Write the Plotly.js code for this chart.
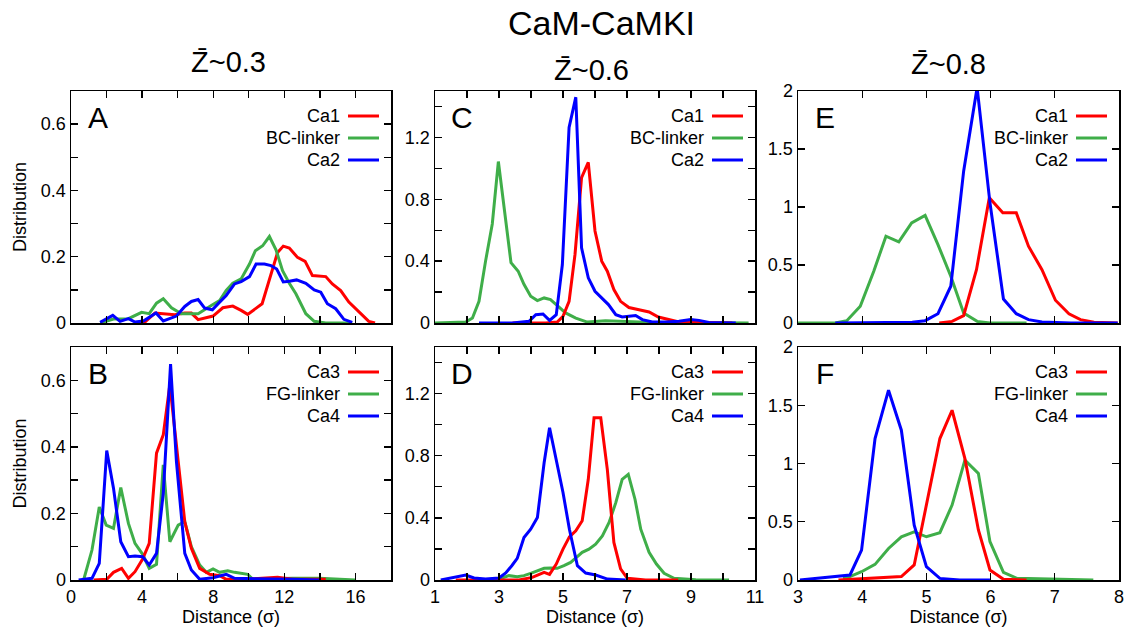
<!DOCTYPE html>
<html>
<head>
<meta charset="utf-8">
<script src="https://cdn.plot.ly/plotly-3.0.1.min.js"></script>
<style>html,body{margin:0;padding:0;background:#fff;}#chart{width:1133px;height:629px;}</style>
</head>
<body>
<div id="chart"></div>
<script>
// ---------- Data ----------
// Panel A (Z~0.3, top)
const A_ca1_x = [3.7, 4.16, 4.72, 5.19, 5.84, 6.4, 6.77, 7.15, 7.6, 7.99, 8.54, 9.1, 9.57, 9.94, 10.75, 11.16, 11.62, 11.94, 12.28, 12.74, 13.17, 13.58, 13.95, 14.33, 14.7, 15.17, 15.63, 16.29, 16.75, 17.1];
const A_ca1_y = [0, 0.003, 0.03, 0.028, 0.025, 0.03, 0.03, 0.01, 0.015, 0.021, 0.046, 0.051, 0.038, 0.026, 0.058, 0.128, 0.213, 0.232, 0.226, 0.198, 0.186, 0.143, 0.141, 0.14, 0.118, 0.098, 0.063, 0.03, 0.005, 0];
const A_bc_x = [1.64, 2.39, 3.23, 3.97, 4.4, 4.81, 5.19, 5.65, 6.21, 7.15, 7.89, 8.36, 8.73, 9.1, 9.57, 10.04, 10.37, 10.78, 11.16, 11.53, 11.9, 12.28, 12.65, 13.21, 13.68, 14.33, 15.82];
const A_bc_y = [0, 0.012, 0.013, 0.032, 0.028, 0.06, 0.073, 0.046, 0.028, 0.028, 0.053, 0.068, 0.098, 0.12, 0.133, 0.178, 0.218, 0.233, 0.261, 0.221, 0.158, 0.12, 0.088, 0.028, 0.005, 0, 0];
const A_ca2_x = [1.64, 2.35, 2.76, 3.23, 3.6, 4.07, 4.78, 5.19, 5.93, 6.4, 6.77, 7.15, 7.52, 7.95, 8.36, 8.73, 9.2, 9.57, 10.04, 10.41, 10.88, 11.25, 11.57, 11.94, 12.28, 12.69, 13.21, 13.68, 14.05, 14.42, 14.89, 15.35, 15.82];
const A_ca2_y = [0.002, 0.023, 0.005, 0.013, 0.003, 0.006, 0.03, 0.006, 0.021, 0.05, 0.065, 0.071, 0.045, 0.04, 0.063, 0.083, 0.118, 0.125, 0.14, 0.178, 0.178, 0.173, 0.163, 0.124, 0.126, 0.13, 0.12, 0.1, 0.093, 0.058, 0.043, 0.011, 0.002];

// Panel B (Z~0.3, bottom)
const B_ca3_x = [1.27, 2.01, 2.39, 2.85, 3.23, 3.6, 4.03, 4.4, 4.81, 5.19, 5.56, 5.93, 6.4, 6.77, 7.24, 7.8, 8.36, 8.73, 9.85, 11.62, 12.46, 14.33];
const B_ca3_y = [0, 0.002, 0.023, 0.035, 0.005, 0.025, 0.063, 0.11, 0.381, 0.436, 0.587, 0.406, 0.175, 0.095, 0.035, 0.017, 0.013, 0.002, 0.002, 0.008, 0.002, 0.002];
const B_fg_x = [0.71, 1.18, 1.59, 1.98, 2.39, 2.8, 3.23, 3.6, 4.03, 4.4, 4.81, 5.19, 5.56, 6.03, 6.4, 6.77, 7.24, 7.61, 7.99, 8.36, 8.82, 9.2, 9.94, 10.23, 12.46, 13.96, 16.0];
const B_fg_y = [0, 0.09, 0.219, 0.165, 0.155, 0.278, 0.17, 0.11, 0.077, 0.035, 0.047, 0.346, 0.115, 0.165, 0.175, 0.1, 0.045, 0.023, 0.033, 0.023, 0.028, 0.023, 0.017, 0.002, 0.005, 0.005, 0];
const B_ca4_x = [0.43, 1.18, 1.59, 2.01, 2.39, 2.8, 3.23, 3.6, 4.03, 4.4, 4.81, 5.19, 5.6, 5.93, 6.4, 6.77, 7.24, 7.99, 8.73, 9.2, 12.46, 13.96];
const B_ca4_y = [0, 0.005, 0.05, 0.389, 0.276, 0.115, 0.07, 0.072, 0.07, 0.045, 0.08, 0.26, 0.649, 0.356, 0.08, 0.03, 0.002, 0.007, 0.017, 0.005, 0.002, 0];

// Panel C (Z~0.6, top)
const C_bc_x = [1.0, 1.96, 2.17, 2.375, 2.58, 2.79, 2.98, 3.19, 3.375, 3.6, 3.78, 3.99, 4.2, 4.41, 4.61, 4.85, 5.08, 5.4, 5.76, 6.33, 6.96, 7.79, 8.83, 10.8];
const C_bc_y = [0, 0.006, 0.032, 0.14, 0.4, 0.64, 1.044, 0.70, 0.39, 0.335, 0.25, 0.173, 0.145, 0.162, 0.151, 0.108, 0.065, 0.032, 0.006, 0.015, 0.011, 0.004, 0.004, 0];
const C_ca1_x = [3.42, 4.46, 4.82, 5.0, 5.19, 5.375, 5.58, 5.79, 6.0, 6.21, 6.385, 6.59, 6.8, 7.06, 7.375, 7.69, 7.98, 8.31, 8.625, 9.35, 10.29];
const C_ca1_y = [0, 0, 0.006, 0.043, 0.14, 0.443, 0.94, 1.038, 0.595, 0.4, 0.335, 0.216, 0.14, 0.1, 0.086, 0.071, 0.039, 0.022, 0.006, 0.004, 0];
const C_ca2_x = [2.375, 3.42, 3.94, 4.15, 4.375, 4.58, 4.79, 4.98, 5.19, 5.4, 5.58, 5.79, 6.0, 6.21, 6.42, 6.65, 6.85, 7.06, 7.27, 7.48, 7.79, 8.21, 8.625, 8.99, 9.25, 9.56, 10.4];
const C_ca2_y = [0, 0, 0.011, 0.054, 0.058, 0.017, 0.054, 0.378, 1.265, 1.46, 0.486, 0.292, 0.205, 0.162, 0.119, 0.054, 0.039, 0.043, 0.048, 0.022, 0.006, 0.006, 0.011, 0.022, 0.017, 0.004, 0];

// Panel D (Z~0.6, bottom)
const D_ca3_x = [1.65, 3.625, 4.04, 4.41, 4.58, 4.79, 5.0, 5.2, 5.4, 5.6, 5.79, 5.97, 6.18, 6.385, 6.59, 6.8, 7.01, 7.58, 8.6];
const D_ca3_y = [0, 0, 0.017, 0.049, 0.036, 0.103, 0.199, 0.278, 0.317, 0.381, 0.648, 1.044, 1.044, 0.712, 0.242, 0.071, 0.011, 0, 0];
const D_fg_x = [3.0, 3.31, 3.57, 3.78, 3.99, 4.2, 4.41, 4.61, 4.82, 5.03, 5.24, 5.42, 5.6, 5.81, 6.02, 6.23, 6.44, 6.65, 6.85, 7.04, 7.25, 7.43, 7.69, 7.92, 8.16, 8.47, 9.15, 10.19];
const D_fg_y = [0.006, 0.028, 0.021, 0.028, 0.043, 0.06, 0.075, 0.077, 0.075, 0.092, 0.113, 0.145, 0.178, 0.199, 0.231, 0.284, 0.37, 0.498, 0.648, 0.68, 0.52, 0.327, 0.178, 0.103, 0.043, 0.011, 0.002, 0];
const D_ca4_x = [1.18, 1.65, 1.96, 2.22, 2.58, 3.0, 3.21, 3.4, 3.57, 3.78, 3.99, 4.2, 4.41, 4.58, 4.79, 5.0, 5.2, 5.45, 5.71, 6.02, 6.39, 6.96];
const D_ca4_y = [0, 0.017, 0.032, 0.013, 0.006, 0.013, 0.045, 0.092, 0.139, 0.274, 0.327, 0.402, 0.755, 0.98, 0.776, 0.563, 0.327, 0.092, 0.045, 0.032, 0.006, 0];

// Panel E (Z~0.8, top)
const E_bc_x = [2.97, 3.58, 3.76, 3.97, 4.18, 4.37, 4.57, 4.77, 4.98, 5.18, 5.38, 5.58, 5.79, 5.99, 6.56];
const E_bc_y = [0, 0, 0.02, 0.144, 0.446, 0.748, 0.7, 0.863, 0.927, 0.676, 0.403, 0.086, 0.014, 0, 0];
const E_ca1_x = [5.2, 5.4, 5.58, 5.78, 5.98, 6.19, 6.4, 6.59, 6.8, 7.01, 7.22, 7.4, 7.61, 7.98];
const E_ca1_y = [0, 0.014, 0.063, 0.46, 1.079, 0.95, 0.95, 0.662, 0.46, 0.196, 0.08, 0.029, 0.006, 0];
const E_ca2_x = [3.58, 4.78, 4.98, 5.18, 5.38, 5.58, 5.79, 5.99, 6.2, 6.4, 6.59, 6.8, 7.25, 7.98];
const E_ca2_y = [0, 0.006, 0.02, 0.08, 0.317, 1.309, 2.03, 1.036, 0.207, 0.08, 0.029, 0.009, 0, 0];

// Panel F (Z~0.8, bottom)
const F_ca3_x = [3.63, 4.61, 4.81, 5.0, 5.21, 5.4, 5.6, 5.81, 5.99, 6.2, 6.56];
const F_ca3_y = [0, 0.029, 0.129, 0.643, 1.214, 1.457, 1.043, 0.429, 0.086, 0.006, 0];
const F_fg_x = [3.7, 3.81, 3.99, 4.2, 4.41, 4.61, 4.81, 5.0, 5.21, 5.4, 5.6, 5.81, 5.99, 6.2, 6.41, 7.6];
const F_fg_y = [0.02, 0.029, 0.071, 0.134, 0.271, 0.371, 0.414, 0.371, 0.406, 0.643, 1.029, 0.914, 0.329, 0.066, 0.014, 0];
const F_ca4_x = [3.03, 3.81, 3.99, 4.2, 4.41, 4.61, 4.81, 5.0, 5.21, 5.52, 5.99];
const F_ca4_y = [0, 0.043, 0.257, 1.214, 1.629, 1.286, 0.471, 0.114, 0.014, 0, 0];

// Names / labels
const topNames = ["Ca1", "BC-linker", "Ca2"];
const bottomNames = ["Ca3", "FG-linker", "Ca4"];
const panelLetters = ["A", "B", "C", "D", "E", "F"];
const columnTitles = ["Z\u0304~0.3", "Z\u0304~0.6", "Z\u0304~0.8"];
const mainTitle = "CaM-CaMKI";
const xTitle = "Distance (\u03c3)";
const yTitle = "Distribution";

// Tick values and labels
const xTicksAB = [0, 2, 4, 6, 8, 10, 12, 14, 16, 18];
const xTextAB = ["0", "", "4", "", "8", "", "12", "", "16", ""];
const xTicksCD = [1, 2, 3, 4, 5, 6, 7, 8, 9, 10, 11];
const xTextCD = ["1", "", "3", "", "5", "", "7", "", "9", "", "11"];
const xTicksEF = [3, 4, 5, 6, 7, 8];
const xTextEF = ["3", "4", "5", "6", "7", "8"];
const yTicksAB = [0, 0.1, 0.2, 0.3, 0.4, 0.5, 0.6, 0.7];
const yTextAB = ["0", "", "0.2", "", "0.4", "", "0.6", ""];
const yTicksCD = [0, 0.2, 0.4, 0.6, 0.8, 1.0, 1.2, 1.4];
const yTextCD = ["0", "", "0.4", "", "0.8", "", "1.2", ""];
const yTicksEF = [0, 0.5, 1, 1.5, 2];
const yTextEF = ["0", "0.5", "1", "1.5", "2"];

// ---------- Styling ----------
const RED = "#ff0000", GREEN = "#3fae49", BLUE = "#0000ff";
const FONT = "Liberation Sans, Arial, Helvetica, sans-serif";
const LW = 3;

function tr(x, y, ax, color, name) {
  return {x: x, y: y, xaxis: "x" + ax, yaxis: "y" + ax, type: "scatter", mode: "lines",
          name: name, showlegend: false, line: {color: color, width: LW}};
}
const traces = [
  tr(A_ca1_x, A_ca1_y, "", RED, topNames[0]),
  tr(A_bc_x, A_bc_y, "", GREEN, topNames[1]),
  tr(A_ca2_x, A_ca2_y, "", BLUE, topNames[2]),
  tr(B_fg_x, B_fg_y, "2", GREEN, bottomNames[1]),
  tr(B_ca3_x, B_ca3_y, "2", RED, bottomNames[0]),
  tr(B_ca4_x, B_ca4_y, "2", BLUE, bottomNames[2]),
  tr(C_bc_x, C_bc_y, "3", GREEN, topNames[1]),
  tr(C_ca1_x, C_ca1_y, "3", RED, topNames[0]),
  tr(C_ca2_x, C_ca2_y, "3", BLUE, topNames[2]),
  tr(D_fg_x, D_fg_y, "4", GREEN, bottomNames[1]),
  tr(D_ca3_x, D_ca3_y, "4", RED, bottomNames[0]),
  tr(D_ca4_x, D_ca4_y, "4", BLUE, bottomNames[2]),
  tr(E_bc_x, E_bc_y, "5", GREEN, topNames[1]),
  tr(E_ca1_x, E_ca1_y, "5", RED, topNames[0]),
  tr(E_ca2_x, E_ca2_y, "5", BLUE, topNames[2]),
  tr(F_fg_x, F_fg_y, "6", GREEN, bottomNames[1]),
  tr(F_ca3_x, F_ca3_y, "6", RED, bottomNames[0]),
  tr(F_ca4_x, F_ca4_y, "6", BLUE, bottomNames[2])
];

const W = 1133, H = 629;
const colDom = [[71 / W, 391 / W], [435 / W, 755 / W], [798 / W, 1119 / W]];
const topDom = [(H - 323) / H, (H - 91) / H];
const botDom = [(H - 580) / H, (H - 347) / H];

function axBase() {
  return {showline: true, linecolor: "#000", linewidth: 1.5, mirror: "allticks",
          ticks: "inside", ticklen: 7, tickwidth: 1.3, tickcolor: "#000",
          showgrid: false, zeroline: false, tickmode: "array",
          tickfont: {family: FONT, size: 18, color: "#000"}};
}
function xAx(dom, anchor, range, tv, tt, showLabels, title) {
  const a = axBase();
  a.domain = dom; a.anchor = anchor; a.range = range; a.tickvals = tv; a.ticktext = tt;
  a.showticklabels = showLabels;
  if (title) a.title = {text: title, font: {family: FONT, size: 18, color: "#000"}, standoff: 4};
  return a;
}
function yAx(dom, anchor, range, tv, tt, title) {
  const a = axBase();
  a.domain = dom; a.anchor = anchor; a.range = range; a.tickvals = tv; a.ticktext = tt;
  if (title) a.title = {text: title, font: {family: FONT, size: 18, color: "#000"}, standoff: 9};
  return a;
}

const layout = {
  width: W, height: H, autosize: false,
  margin: {l: 0, r: 0, t: 0, b: 0},
  paper_bgcolor: "#fff", plot_bgcolor: "#fff",
  font: {family: FONT, color: "#000"},
  xaxis:  xAx(colDom[0], "y",  [0, 18], xTicksAB, xTextAB, false),
  yaxis:  yAx(topDom, "x",  [0, 0.7], yTicksAB, yTextAB, yTitle),
  xaxis2: xAx(colDom[0], "y2", [0, 18], xTicksAB, xTextAB, true, xTitle),
  yaxis2: yAx(botDom, "x2", [0, 0.7], yTicksAB, yTextAB, yTitle),
  xaxis3: xAx(colDom[1], "y3", [1, 11], xTicksCD, xTextCD, false),
  yaxis3: yAx(topDom, "x3", [0, 1.5], yTicksCD, yTextCD),
  xaxis4: xAx(colDom[1], "y4", [1, 11], xTicksCD, xTextCD, true, xTitle),
  yaxis4: yAx(botDom, "x4", [0, 1.5], yTicksCD, yTextCD),
  xaxis5: xAx(colDom[2], "y5", [3, 8], xTicksEF, xTextEF, false),
  yaxis5: yAx(topDom, "x5", [0, 2], yTicksEF, yTextEF),
  xaxis6: xAx(colDom[2], "y6", [3, 8], xTicksEF, xTextEF, true, xTitle),
  yaxis6: yAx(botDom, "x6", [0, 2], yTicksEF, yTextEF),
  annotations: [],
  shapes: []
};

// Titles
layout.annotations.push({text: mainTitle, xref: "paper", yref: "paper", x: 601 / W, y: 1 - 23 / H,
  xanchor: "center", yanchor: "middle", showarrow: false, font: {family: FONT, size: 34, color: "#000"}});
const colTitlePos = [[228, 62], [591, 70], [948, 64]];
columnTitles.forEach((t, i) => {
  layout.annotations.push({text: t, xref: "paper", yref: "paper", x: colTitlePos[i][0] / W, y: 1 - colTitlePos[i][1] / H,
    xanchor: "center", yanchor: "middle", showarrow: false, font: {family: FONT, size: 29, color: "#000"}});
});

// Panel letters and in-panel legends
const axIds = ["", "2", "3", "4", "5", "6"];
const colors = [RED, GREEN, BLUE];
const rowOff = [25, 47, 69];
axIds.forEach((id, i) => {
  const xr = "x" + id + " domain", yr = "y" + id + " domain";
  layout.annotations.push({text: panelLetters[i], xref: xr, yref: yr, x: 0, y: 1, xshift: 27, yshift: -27,
    xanchor: "center", yanchor: "middle", showarrow: false, font: {family: FONT, size: 30, color: "#000"}});
  const names = (i % 2 === 0) ? topNames : bottomNames;
  names.forEach((n, k) => {
    layout.annotations.push({text: n, xref: xr, yref: yr, x: 1, y: 1, xshift: -49, yshift: -rowOff[k],
      xanchor: "right", yanchor: "middle", showarrow: false, font: {family: FONT, size: 18, color: "#000"}});
    layout.shapes.push({type: "line", xref: "x" + id + " domain", yref: "y" + id + " domain",
      xsizemode: "pixel", ysizemode: "pixel", xanchor: 1, yanchor: 1,
      x0: -43, x1: -12, y0: -rowOff[k], y1: -rowOff[k], line: {color: colors[k], width: LW}});
  });
});

Plotly.newPlot("chart", traces, layout, {staticPlot: true, displayModeBar: false});
</script>
</body>
</html>
